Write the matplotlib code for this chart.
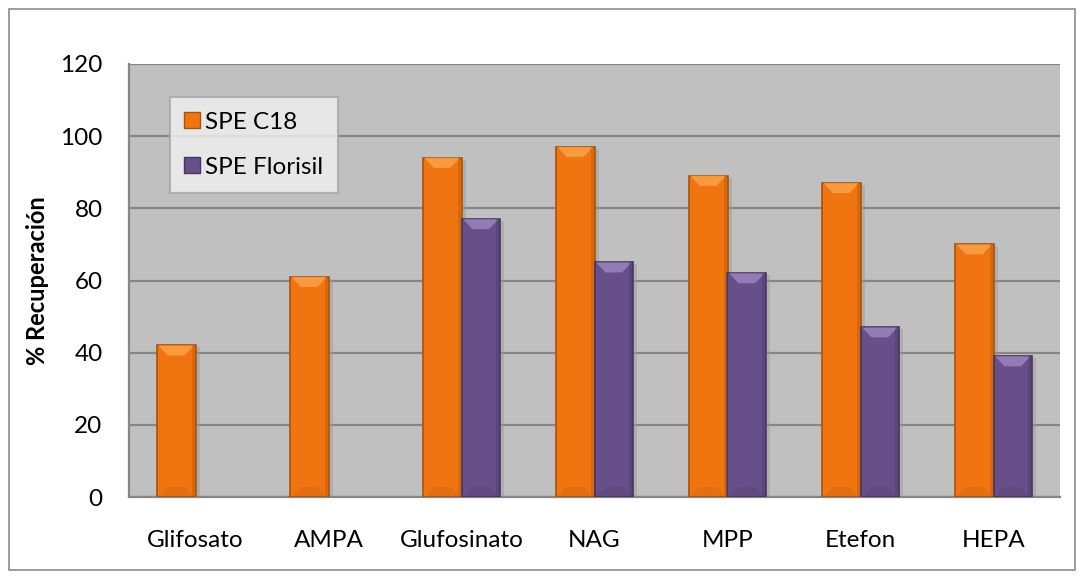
import matplotlib.pyplot as plt
import numpy as np
from matplotlib.lines import Line2D
from matplotlib.patches import Polygon, Rectangle

plt.rcParams['font.family'] = ['Lato', 'DejaVu Sans']

categories = ['Glifosato', 'AMPA', 'Glufosinato', 'NAG', 'MPP', 'Etefon', 'HEPA']
spe_c18 = [42, 61, 94, 97, 89, 87, 70]
spe_florisil = [np.nan, np.nan, 77, 65, 62, 47, 39]  # no result for the first two
series_names = ['SPE C18', 'SPE Florisil']
yticks = [0, 20, 40, 60, 80, 100, 120]

fills = ['#f07511', '#67508a']
edges = ['#a8530b', '#46365f']
lights = ['#fba14a', '#9b83bd']

fig = plt.figure(figsize=(10.79, 5.79), dpi=100)
# outer chart frame
fig.patches.append(Rectangle((9 / 1079, 9 / 579), 1066 / 1079, 561 / 579,
                             transform=fig.transFigure, fill=False,
                             edgecolor='#8c8c8c', lw=1.2))

ax = fig.add_axes([129 / 1079, 1 - 497 / 579, 931 / 1079, 433 / 579])
ax.set_facecolor('#c0c0c0')

x = np.arange(len(categories))
w = 0.29
px_y = 120 / 433.0  # data units per pixel on y
px_x = 1 / 133.0    # data units per pixel on x


def draw_series(xs, vals, k):
    bars = ax.bar(xs, vals, w, color=fills[k], edgecolor=edges[k],
                  linewidth=1.2, zorder=3)
    for xc, v in zip(xs, vals):
        if not np.isfinite(v):
            continue
        left, right = xc - w / 2, xc + w / 2
        # soft drop shadow
        ax.add_patch(Rectangle((left + 4 * px_x, 0), w, v - 2 * px_y,
                               facecolor='#999999', edgecolor='none',
                               alpha=0.45, zorder=2))
        # top bevel
        h = 10 * px_y
        ins = 11 * px_x
        ax.add_patch(Polygon([(left + 1.5 * px_x, v), (right - 1.5 * px_x, v),
                              (right - ins, v - h), (left + ins, v - h)],
                             closed=True, facecolor=lights[k],
                             edgecolor='none', alpha=0.85, zorder=4))
        # bottom bevel
        ax.add_patch(Polygon([(left + 1.5 * px_x, 0), (right - 1.5 * px_x, 0),
                              (right - ins, h), (left + ins, h)],
                             closed=True, facecolor=edges[k],
                             edgecolor='none', alpha=0.2, zorder=4))
        # darker side strip
        ax.add_patch(Rectangle((right - 4 * px_x, 0), 3 * px_x, v,
                               facecolor=edges[k], edgecolor='none',
                               alpha=0.35, zorder=4))
    return bars


draw_series(x - w / 2, spe_c18, 0)
draw_series(x + w / 2, spe_florisil, 1)

ax.set_xlim(-0.5, len(categories) - 0.5)
ax.set_ylim(0, 120)
ax.set_yticks(yticks)
ax.yaxis.grid(True, color='#868686', lw=1.6, zorder=1)
ax.set_axisbelow(True)
ax.set_xticks(x)
ax.set_xticklabels(categories)
ax.tick_params(axis='both', length=0, labelsize=17.5, colors='black')
ax.tick_params(axis='y', pad=19)
ax.tick_params(axis='x', pad=24)
for s in ['top', 'right']:
    ax.spines[s].set_visible(False)
for s in ['left', 'bottom']:
    ax.spines[s].set_color('#868686')
    ax.spines[s].set_linewidth(1.6)

ax.set_ylabel('% Recuperación', fontsize=17, fontweight='bold', labelpad=8)

# square legend keys
handles = [Line2D([], [], linestyle='none', marker='s', markersize=11.5,
                  markerfacecolor=fills[k], markeredgecolor=edges[k],
                  markeredgewidth=1.0) for k in range(2)]
leg = ax.legend(handles, series_names, loc='upper left',
                bbox_to_anchor=(41 / 931, 1 - 33 / 433),
                fontsize=17.5, frameon=True, fancybox=False,
                handlelength=0.6, handletextpad=0.25,
                labelspacing=1.0, borderpad=0.6, borderaxespad=0)
leg.get_frame().set_facecolor('#f2f2f2')
leg.get_frame().set_edgecolor('#a6a6a6')
leg.get_frame().set_linewidth(1.5)
leg.set_zorder(10)

fig.savefig('out.png', dpi=100)
